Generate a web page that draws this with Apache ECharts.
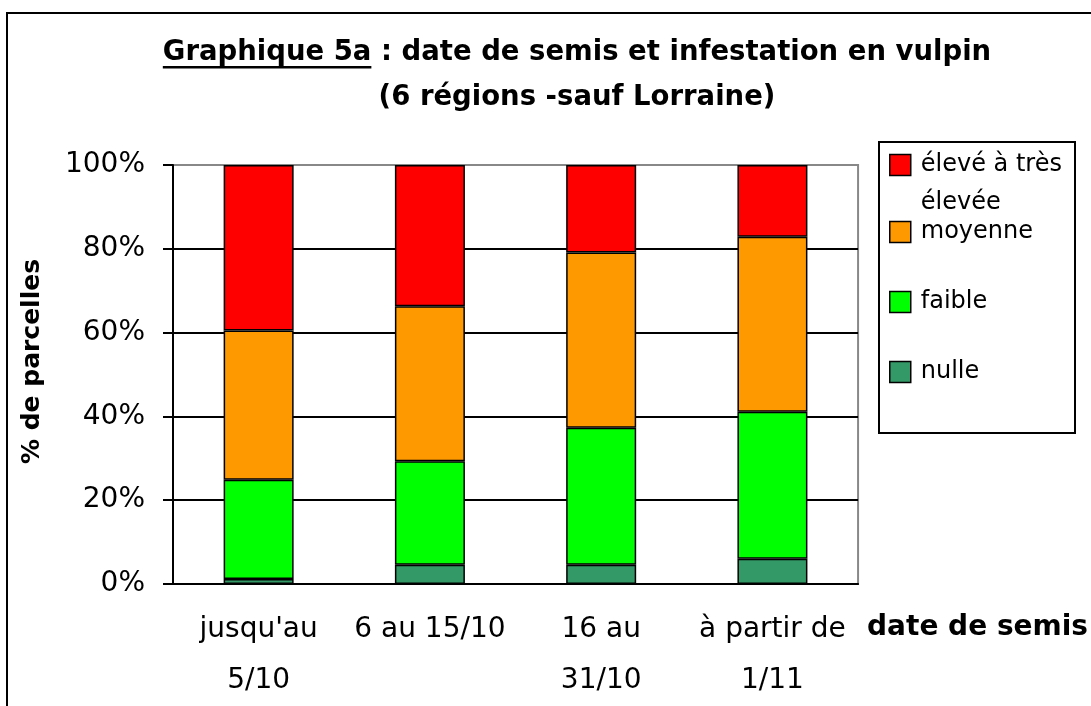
<!DOCTYPE html>
<html>
<head>
<meta charset="utf-8">
<script src="https://cdn.jsdelivr.net/npm/echarts@6.0.0/dist/echarts.min.js"></script>
<style>
  html, body { margin: 0; background: #fff; }
  #chart { width: 1091px; height: 706px; }
</style>
</head>
<body>
<div id="chart"></div>
<script>
// categories (x axis) and the four stacked shares, in % of plots
const categories = ["jusqu'au\n5/10", '6 au 15/10', '16 au\n31/10', 'à partir de\n1/11'];
const nulle = [1.2, 4.6, 4.6, 6.0];
const faible = [23.7, 24.7, 32.7, 35.1];
const moyenne = [35.6, 37.0, 41.8, 41.8];
const eleve = [39.5, 33.7, 20.9, 17.1];
const yTicks = [0, 20, 40, 60, 80, 100];

const FONT = '"DejaVu Sans", sans-serif';
const TITLE_FONT = 'bold 27.5px "DejaVu Sans"';
const title1 = 'Graphique 5a : date de semis et infestation en vulpin';
const title2 = '(6 régions -sauf Lorraine)';

// measure the title so the underline sits under "Graphique 5a"
const ctx = document.createElement('canvas').getContext('2d');
ctx.font = TITLE_FONT;
const line1W = ctx.measureText(title1).width;
const underW = ctx.measureText('Graphique 5a').width;
const titleX = 577;

const seriesDefs = [
  { name: 'nulle', data: nulle, color: '#339966' },
  { name: 'faible', data: faible, color: '#00FF00' },
  { name: 'moyenne', data: moyenne, color: '#FF9900' },
  { name: 'élevé à très élevée', data: eleve, color: '#FF0000' }
];

const chart = echarts.init(document.getElementById('chart'));

const legendBase = {
  left: 889,
  padding: 0,
  orient: 'vertical',
  icon: 'rect',
  itemWidth: 21,
  itemHeight: 21,
  selectedMode: false,
  itemStyle: { borderColor: '#000', borderWidth: 1.5 },
  textStyle: { fontFamily: FONT, fontSize: 24, color: '#000', lineHeight: 24, padding: [0, 0, 0, 5] }
};

const option = {
  animation: false,
  backgroundColor: '#fff',
  graphic: [
    // outer chart frame (cut by the picture's right and bottom edges)
    { type: 'rect', z: 0, shape: { x: 7, y: 13, width: 1200, height: 800 },
      style: { fill: 'none', stroke: '#000', lineWidth: 2 } },
    { type: 'text', x: titleX, y: 53,
      style: { text: title1, font: TITLE_FONT, fill: '#000', align: 'center', verticalAlign: 'middle' } },
    { type: 'rect', shape: { x: titleX - line1W / 2, y: 66, width: underW, height: 2.5 }, style: { fill: '#000' } },
    { type: 'text', x: titleX, y: 98,
      style: { text: title2, font: TITLE_FONT, fill: '#000', align: 'center', verticalAlign: 'middle' } },
    // legend box
    { type: 'rect', z: 1, shape: { x: 879, y: 142, width: 196, height: 291 },
      style: { fill: '#fff', stroke: '#000', lineWidth: 2 } }
  ],
  legend: [
    // blank first line keeps the marker level with "élevé à très"
    Object.assign({}, legendBase, {
      top: 108,
      data: ['élevé à très élevée'],
      formatter: () => '\nélevé à très\nélevée',
      textStyle: { fontFamily: FONT, fontSize: 24, color: '#000', lineHeight: 38, padding: [0, 0, 0, 5] }
    }),
    Object.assign({}, legendBase, { top: 220, data: ['moyenne'] }),
    Object.assign({}, legendBase, { top: 290, data: ['faible'] }),
    Object.assign({}, legendBase, { top: 360, data: ['nulle'] })
  ],
  grid: {
    left: 173, right: 224, top: 165, bottom: 120,
    show: true, borderColor: '#888', borderWidth: 2
  },
  xAxis: {
    type: 'category',
    data: categories,
    name: 'date de semis',
    nameLocation: 'end',
    nameGap: 9,
    nameTextStyle: {
      fontFamily: FONT, fontSize: 28, fontWeight: 'bold', color: '#000',
      verticalAlign: 'top', lineHeight: 88
    },
    axisLine: { lineStyle: { color: '#000', width: 2 } },
    axisTick: { length: 12, lineStyle: { color: '#000', width: 2 } },
    axisLabel: { fontFamily: FONT, fontSize: 28, lineHeight: 51, margin: 20, color: '#000', interval: 0 }
  },
  yAxis: {
    type: 'value',
    min: yTicks[0],
    max: yTicks[yTicks.length - 1],
    interval: yTicks[1] - yTicks[0],
    name: '% de parcelles',
    nameLocation: 'middle',
    nameGap: 128,
    nameRotate: 90,
    nameTextStyle: { fontFamily: FONT, fontSize: 25, fontWeight: 'bold', color: '#000', padding: [0, 0, 0, 26] },
    axisLine: { show: true, lineStyle: { color: '#000', width: 2 } },
    axisTick: { show: true, length: 10, lineStyle: { color: '#000', width: 2 } },
    axisLabel: { fontFamily: FONT, fontSize: 28, color: '#000', margin: 28, formatter: '{value}%' },
    splitLine: { lineStyle: { color: ['#000', '#000', '#000', '#000', '#000', '#888'], width: 2 } }
  },
  series: seriesDefs.map(s => ({
    type: 'bar',
    name: s.name,
    stack: 'total',
    data: s.data,
    barWidth: 70,
    itemStyle: { color: s.color, borderColor: '#000', borderWidth: 1.5 }
  }))
};

chart.setOption(option);
</script>
</body>
</html>
